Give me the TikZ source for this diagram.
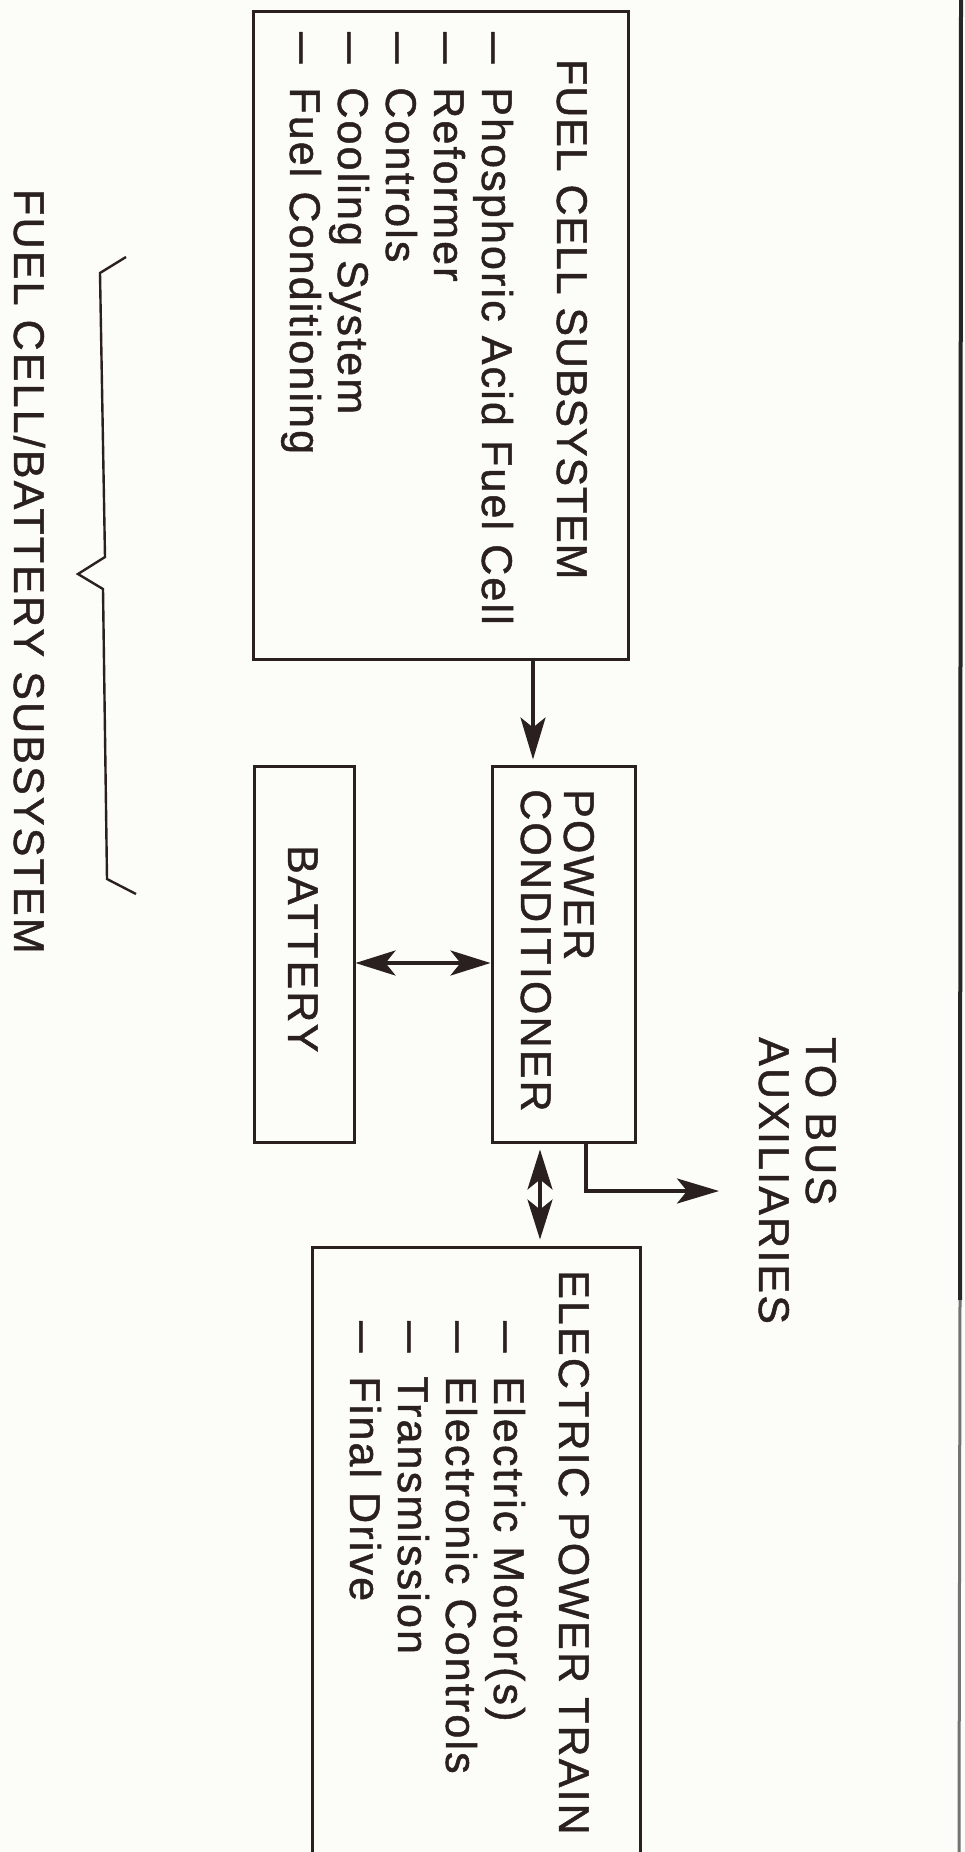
\documentclass[tikz,border=0pt]{standalone}
\usepackage{fontspec}
\setmainfont{Liberation Sans}[LetterSpace=5,FakeBold=1.1]
\usetikzlibrary{arrows.meta,calc}
\definecolor{ink}{HTML}{2A2020}
\definecolor{paper}{HTML}{FCFCF8}
\newcommand{\itemdash}{\scalebox{1.3}[1]{–}\hspace{24pt}}
\begin{document}
\begin{tikzpicture}[x=1pt,y=-1pt,
  box/.style={draw=ink, line width=3pt, inner sep=0pt},
  lbl/.style={rotate=-90, anchor=base west, inner sep=0pt, text=ink, font=\fontsize{43}{50}\selectfont},
  arr/.style={draw=ink, line width=3.5pt, -{Stealth[length=42pt,width=25pt,inset=10pt]}},
  darr/.style={draw=ink, line width=3.5pt, {Stealth[length=40pt,width=25pt,inset=10pt]}-{Stealth[length=40pt,width=25pt,inset=10pt]}}]
\fill[paper] (0,0) rectangle (965,1852);
\useasboundingbox (0,0) rectangle (965,1852);
\clip (0,0) rectangle (965,1852);

% boxes
\node[box, minimum width=375pt, minimum height=647pt] (fc) at (440.5,335.5) {};
\node[box, minimum width=143pt, minimum height=376pt] (pc) at (563.5,954) {};
\node[box, minimum width=100pt, minimum height=376pt] (bat) at (304,954) {};
\node[box, minimum width=328pt, minimum height=760pt] (ept) at (476,1627) {};

% fuel cell subsystem text
\node[lbl] (fct) at (557,59) {\addfontfeatures{LetterSpace=2}FUEL CELL SUBSYSTEM};
\node[lbl] (fc1) at (482,32) {\itemdash Phosphoric Acid Fuel Cell};
\node[lbl] (fc2) at (434,32) {\itemdash Reformer};
\node[lbl] (fc3) at (386,32) {\itemdash Controls};
\node[lbl] (fc4) at (338,32) {\itemdash Cooling System};
\node[lbl] (fc5) at (290,32) {\itemdash Fuel Conditioning};

% power conditioner, battery
\node[lbl] (pct1) at (564,789) {POWER};
\node[lbl] (pct2) at (521,789) {CONDITIONER};
\node[lbl] (batt) at (288,845) {BATTERY};

% bus auxiliaries
\node[lbl] (bus1) at (806,1037) {TO BUS};
\node[lbl] (bus2) at (759,1037) {AUXILIARIES};

% electric power train
\node[lbl] (eptt) at (559,1270) {ELECTRIC POWER TRAIN};
\node[lbl] (ep1) at (494,1321) {\itemdash Electric Motor(s)};
\node[lbl] (ep2) at (446,1321) {\itemdash Electronic Controls};
\node[lbl] (ep3) at (398,1321) {\itemdash Transmission};
\node[lbl] (ep4) at (350,1321) {\itemdash Final Drive};

% bottom label
\node[lbl] (sub) at (14,189) {FUEL CELL/BATTERY SUBSYSTEM};

% connectors
\coordinate (xa) at (533,0);
\coordinate (yb) at (0,963);
\coordinate (xe) at (540,0);
\coordinate (xb) at (586,0);
\coordinate (busend) at (719,1191);
\draw[arr, shorten >=5pt] (xa |- fc.south) -- (xa |- pc.north);
\draw[darr] (bat.east |- yb) -- (pc.west |- yb);
\draw[darr, shorten >=6pt, shorten <=6pt] (xe |- pc.south) -- (xe |- ept.north);
\draw[arr] (xb |- pc.south) |- (busend);

% brace
\draw[ink, line width=2.4pt, line join=miter] (126,257) -- (100,273) -- (105,557) -- (78,574) -- (103,589) -- (107,879) -- (136,894);

% scan edge
\draw[black!85, line width=4pt] (961,0) -- (960,1300);
\draw[black!55, line width=3pt] (960,1300) -- (959,1852);
\end{tikzpicture}
\end{document}
